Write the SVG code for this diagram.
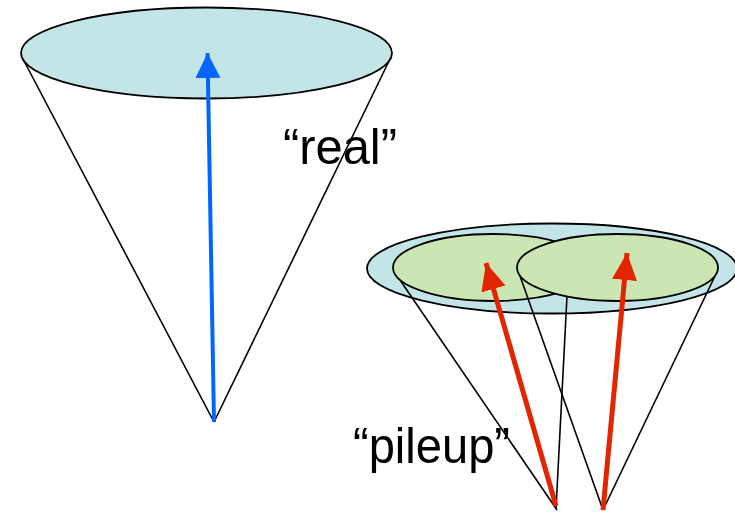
<svg xmlns="http://www.w3.org/2000/svg" width="735" height="513" viewBox="0 0 735 513">
<style>
.cone{stroke:#000;stroke-width:1.6;fill:none}
.disk{stroke:#000;stroke-width:1.8}
.blue{fill:#c4e5e8}
.green{fill:#cce6b3}
.lbl{font-family:"Liberation Sans",Arial,sans-serif;font-size:50px;fill:#000}
</style>
<defs>
<marker id="hb" markerUnits="userSpaceOnUse" markerWidth="26" markerHeight="26" refX="25" refY="12.5" orient="auto" viewBox="0 0 26 26"><path d="M0,0 L25,12.5 L0,25 Z" fill="#0066ff"/></marker>
<marker id="hr" markerUnits="userSpaceOnUse" markerWidth="28" markerHeight="26" refX="27" refY="12.5" orient="auto" viewBox="0 0 28 26"><path d="M0,0 L27,12.5 L0,25 Z" fill="#e32400"/></marker>
</defs>
<g id="real-jet">
<ellipse class="disk blue" cx="206.5" cy="53" rx="185.5" ry="45.5"/>
<line class="cone" x1="23" y1="59" x2="214" y2="422"/>
<line class="cone" x1="390" y1="59" x2="214" y2="422"/>
</g>
<g id="pileup-jets">
<ellipse class="disk blue" cx="552" cy="268.5" rx="185" ry="45"/>
<ellipse class="disk green" cx="493" cy="267.5" rx="100" ry="33.5"/>
<line class="cone" x1="400" y1="280" x2="557" y2="510"/>
<line class="cone" x1="567" y1="296" x2="556" y2="509"/>
<line class="cone" x1="520" y1="276" x2="603" y2="510"/>
<line class="cone" x1="715" y1="276" x2="603" y2="510"/>
<ellipse class="disk green" cx="617.5" cy="267.5" rx="100.5" ry="33.5"/>
</g>
<g id="connectors">
<line x1="214" y1="422" x2="207.5" y2="53" stroke="#0066ff" stroke-width="4" marker-end="url(#hb)"/>
<line x1="556" y1="506" x2="486" y2="263" stroke="#e32400" stroke-width="5" marker-end="url(#hr)"/>
<line x1="603" y1="510" x2="627" y2="253" stroke="#e32400" stroke-width="5" marker-end="url(#hr)"/>
</g>
<g id="labels">
<text class="lbl" x="283" y="164" textLength="114" lengthAdjust="spacingAndGlyphs">“real”</text>
<text class="lbl" x="353" y="463" textLength="157" lengthAdjust="spacingAndGlyphs">“pileup”</text>
</g>
</svg>
